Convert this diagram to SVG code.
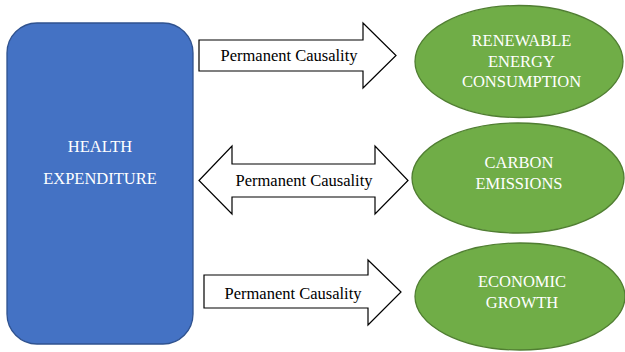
<svg xmlns="http://www.w3.org/2000/svg" width="625" height="352" viewBox="0 0 625 352">
<style>
.blue{fill:#4472C4;stroke:#2F528F;stroke-width:1.3}
.green{fill:#70AD47;stroke:#507E32;stroke-width:1.3}
.arrow{fill:#FFFFFF;stroke:#000000;stroke-width:1.2;stroke-linejoin:miter}
text{font-family:'Liberation Serif','Tinos','Times New Roman','DejaVu Serif','Noto Serif',serif}
.wt{font-size:16.5px;fill:#FFFFFF;text-anchor:middle}
.bt{font-size:16.5px;fill:#000000;text-anchor:middle}
</style>
<rect width="625" height="352" fill="#FFFFFF"/>
<g id="connectors">
<g id="arrow1">
<path class="arrow" d="M199,40 L363,40 L363,23 L396,55.5 L363,88 L363,71 L199,71 Z"/>
<text class="bt" x="289" y="61">Permanent Causality</text>
</g>
<g id="arrow2">
<path class="arrow" d="M199,180.5 L232,146 L232,164 L375,164 L375,146 L408,180.5 L375,214 L375,197 L232,197 L232,214 Z"/>
<text class="bt" x="304" y="186">Permanent Causality</text>
</g>
<g id="arrow3">
<path class="arrow" d="M204,275 L368,275 L368,260 L401,292 L368,325 L368,308 L204,308 Z"/>
<text class="bt" x="293" y="299">Permanent Causality</text>
</g>
</g>
<g id="health">
<rect class="blue" x="7" y="23" width="186" height="321" rx="30" ry="30"/>
<text class="wt" x="100" y="152">HEALTH</text>
<text class="wt" x="100" y="184">EXPENDITURE</text>
</g>
<g id="renewable">
<ellipse class="green" cx="519" cy="61.5" rx="104" ry="56"/>
<text class="wt" x="521.5" y="45.5">RENEWABLE</text>
<text class="wt" x="521.5" y="66.5">ENERGY</text>
<text class="wt" x="521.5" y="87">CONSUMPTION</text>
</g>
<g id="carbon">
<ellipse class="green" cx="518" cy="178" rx="106" ry="55"/>
<text class="wt" x="519" y="168">CARBON</text>
<text class="wt" x="519" y="189">EMISSIONS</text>
</g>
<g id="growth">
<ellipse class="green" cx="520" cy="296.5" rx="105" ry="53.5"/>
<text class="wt" x="522" y="287">ECONOMIC</text>
<text class="wt" x="522" y="307.5">GROWTH</text>
</g>
</svg>
